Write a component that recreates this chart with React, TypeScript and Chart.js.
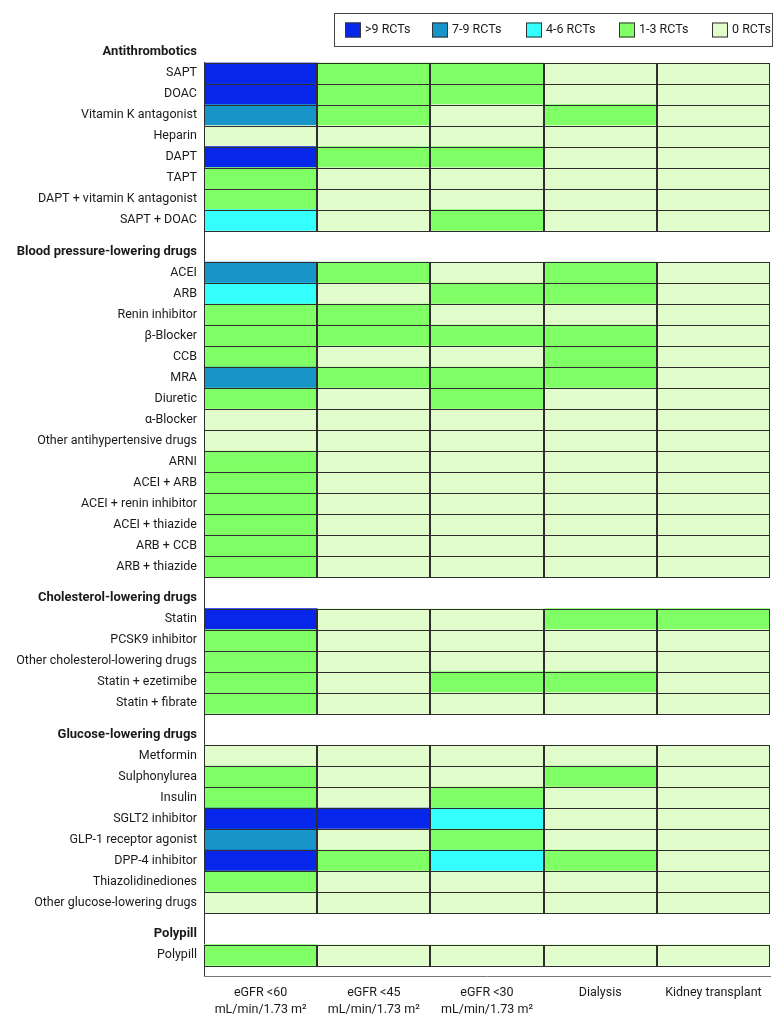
import { useEffect, useRef } from "react";
import { Chart, registerables } from "chart.js";

Chart.register(...registerables);

const FONT = "Roboto, 'Liberation Sans', 'DejaVu Sans', sans-serif";
const TEXT_COLOR = "#1a1a1a";

// Columns (kidney function categories)
const columnLabels: string[][] = [
  ["eGFR <60", "mL/min/1.73 m²"],
  ["eGFR <45", "mL/min/1.73 m²"],
  ["eGFR <30", "mL/min/1.73 m²"],
  ["Dialysis"],
  ["Kidney transplant"],
];

// Evidence levels: 0 = 0 RCTs, 1 = 1-3, 2 = 4-6, 3 = 7-9, 4 = >9
const levelColors = ["#E2FDCC", "#80FF66", "#33FFFF", "#1795C8", "#0626E9"];
const legendCodes = [4, 3, 2, 1, 0];
const legendLabels = [">9 RCTs", "7-9 RCTs", "4-6 RCTs", "1-3 RCTs", "0 RCTs"];

const groupTitles = [
  "Antithrombotics",
  "Blood pressure-lowering drugs",
  "Cholesterol-lowering drugs",
  "Glucose-lowering drugs",
  "Polypill",
];

const antithromboticDrugs = [
  "SAPT",
  "DOAC",
  "Vitamin K antagonist",
  "Heparin",
  "DAPT",
  "TAPT",
  "DAPT + vitamin K antagonist",
  "SAPT + DOAC",
];
const antithromboticLevels = [
  [4, 1, 1, 0, 0],
  [4, 1, 1, 0, 0],
  [3, 1, 0, 1, 0],
  [0, 0, 0, 0, 0],
  [4, 1, 1, 0, 0],
  [1, 0, 0, 0, 0],
  [1, 0, 0, 0, 0],
  [2, 0, 1, 0, 0],
];

const bpDrugs = [
  "ACEI",
  "ARB",
  "Renin inhibitor",
  "β-Blocker",
  "CCB",
  "MRA",
  "Diuretic",
  "α-Blocker",
  "Other antihypertensive drugs",
  "ARNI",
  "ACEI + ARB",
  "ACEI + renin inhibitor",
  "ACEI + thiazide",
  "ARB + CCB",
  "ARB + thiazide",
];
const bpLevels = [
  [3, 1, 0, 1, 0],
  [2, 0, 1, 1, 0],
  [1, 1, 0, 0, 0],
  [1, 1, 1, 1, 0],
  [1, 0, 0, 1, 0],
  [3, 1, 1, 1, 0],
  [1, 0, 1, 0, 0],
  [0, 0, 0, 0, 0],
  [0, 0, 0, 0, 0],
  [1, 0, 0, 0, 0],
  [1, 0, 0, 0, 0],
  [1, 0, 0, 0, 0],
  [1, 0, 0, 0, 0],
  [1, 0, 0, 0, 0],
  [1, 0, 0, 0, 0],
];

const cholesterolDrugs = [
  "Statin",
  "PCSK9 inhibitor",
  "Other cholesterol-lowering drugs",
  "Statin + ezetimibe",
  "Statin + fibrate",
];
const cholesterolLevels = [
  [4, 0, 0, 1, 1],
  [1, 0, 0, 0, 0],
  [1, 0, 0, 0, 0],
  [1, 0, 1, 1, 0],
  [1, 0, 0, 0, 0],
];

const glucoseDrugs = [
  "Metformin",
  "Sulphonylurea",
  "Insulin",
  "SGLT2 inhibitor",
  "GLP-1 receptor agonist",
  "DPP-4 inhibitor",
  "Thiazolidinediones",
  "Other glucose-lowering drugs",
];
const glucoseLevels = [
  [0, 0, 0, 0, 0],
  [1, 0, 0, 1, 0],
  [1, 0, 1, 0, 0],
  [4, 4, 2, 0, 0],
  [3, 0, 1, 0, 0],
  [4, 1, 2, 1, 0],
  [1, 0, 0, 0, 0],
  [0, 0, 0, 0, 0],
];

const polypillDrugs = ["Polypill"];
const polypillLevels = [[1, 0, 0, 0, 0]];

const groupDrugs = [antithromboticDrugs, bpDrugs, cholesterolDrugs, glucoseDrugs, polypillDrugs];
const groupLevels = [antithromboticLevels, bpLevels, cholesterolLevels, glucoseLevels, polypillLevels];

type Row = { label: string; pos: number; levels: number[] };
const headings: { label: string; pos: number }[] = [];
const rows: Row[] = [];
{
  let pos = 0;
  groupTitles.forEach((title, gi) => {
    if (gi > 0) pos += 1.5;
    headings.push({ label: title, pos });
    groupDrugs[gi].forEach((d, i) => {
      pos += 1;
      rows.push({ label: d, pos, levels: groupLevels[gi][i] });
    });
  });
}
const yMin = 0.5;
const yMax = rows[rows.length - 1].pos + 1;

const cellBorderPlugin = {
  id: "cellBorders",
  afterDatasetsDraw(chart: any) {
    const ctx = chart.ctx;
    ctx.save();
    ctx.strokeStyle = "#2e2e2e";
    ctx.lineWidth = 1;
    chart.data.datasets.forEach((_: any, di: number) => {
      const meta = chart.getDatasetMeta(di);
      meta.data.forEach((el: any) => {
        const p = el.getProps(["x", "y", "base", "height"], true);
        const l = Math.round(Math.min(p.x, p.base)) + 0.5;
        const r = Math.round(Math.max(p.x, p.base)) - 0.5;
        const t = Math.round(p.y - p.height / 2) + 0.5;
        const b = Math.round(p.y + p.height / 2) + 0.5;
        ctx.strokeRect(l, t, r - l, b - t);
      });
    });
    ctx.restore();
  },
};

const headingPlugin = {
  id: "groupHeadings",
  afterDraw(chart: any) {
    const ctx = chart.ctx;
    const y = chart.scales.y;
    ctx.save();
    ctx.font = `bold 13px ${FONT}`;
    ctx.fillStyle = TEXT_COLOR;
    ctx.textAlign = "right";
    ctx.textBaseline = "middle";
    headings.forEach((h) => {
      ctx.fillText(h.label, chart.chartArea.left - 7, y.getPixelForValue(h.pos));
    });
    ctx.restore();
  },
};

const legendSwatchOffsets = [11, 98, 192, 285, 378];

const legendPlugin = {
  id: "rctLegend",
  afterDraw(chart: any) {
    const ctx = chart.ctx;
    const area = chart.chartArea;
    const boxRight = area.right + 2;
    const boxLeft = 334;
    const boxTop = 13.5;
    const boxBottom = 46.5;
    ctx.save();
    ctx.strokeStyle = "#444";
    ctx.lineWidth = 1;
    ctx.strokeRect(boxLeft + 0.5, boxTop, boxRight - boxLeft, boxBottom - boxTop);
    ctx.font = `12.5px ${FONT}`;
    ctx.textBaseline = "middle";
    ctx.textAlign = "left";
    const midY = (boxTop + boxBottom) / 2;
    legendCodes.forEach((code, i) => {
      const x = boxLeft + legendSwatchOffsets[i];
      ctx.fillStyle = levelColors[code];
      ctx.fillRect(x, midY - 7.5, 16, 15);
      ctx.strokeStyle = "#333";
      ctx.strokeRect(x + 0.5, midY - 7, 15, 14);
      ctx.fillStyle = TEXT_COLOR;
      ctx.fillText(legendLabels[i], x + 20, midY);
    });
    ctx.restore();
  },
};

export default function App() {
  const canvasRef = useRef<HTMLCanvasElement | null>(null);

  useEffect(() => {
    if (!canvasRef.current) return;
    const datasets = columnLabels.map((col, c) => ({
      label: col.join(" "),
      data: rows.map((r) => ({ y: r.pos, x: [c, c + 1] })),
      backgroundColor: rows.map((r) => levelColors[r.levels[c]]),
      borderWidth: 0,
      barPercentage: 1,
      categoryPercentage: 1,
      grouped: false,
    }));

    const chart = new Chart(canvasRef.current, {
      type: "bar",
      data: { datasets: datasets as any },
      options: {
        indexAxis: "y",
        responsive: false,
        animation: false,
        layout: { padding: { top: 62.5, left: 0, right: 10, bottom: 0 } },
        plugins: {
          legend: { display: false },
          tooltip: { enabled: false },
          title: { display: false },
        },
        scales: {
          y: {
            type: "linear",
            reverse: true,
            offset: false,
            min: yMin,
            max: yMax,
            afterBuildTicks: (s: any) => {
              s.ticks = rows.map((r) => ({ value: r.pos }));
            },
            afterFit: (s: any) => {
              s.width = 204;
            },
            ticks: {
              autoSkip: false,
              padding: 7,
              color: TEXT_COLOR,
              font: { family: FONT, size: 12.5 },
              callback: (_v: any, i: number) => rows[i].label,
            },
            grid: { display: false, drawTicks: false, offset: false },
            border: { display: true, color: "#333", width: 1 },
          },
          x: {
            type: "linear",
            position: "bottom",
            offset: false,
            min: 0,
            max: columnLabels.length,
            afterBuildTicks: (s: any) => {
              s.ticks = columnLabels.map((_, i) => ({ value: i + 0.5 }));
            },
            afterFit: (s: any) => {
              s.height = 51;
            },
            ticks: {
              autoSkip: false,
              maxRotation: 0,
              minRotation: 0,
              padding: 9,
              color: TEXT_COLOR,
              font: { family: FONT, size: 12.5, lineHeight: 1.3 },
              callback: (_v: any, i: number) => columnLabels[i],
            },
            grid: { display: false, drawTicks: false },
            border: { display: true, color: "#777", width: 1 },
          },
        },
      },
      plugins: [cellBorderPlugin, headingPlugin, legendPlugin],
    });
    return () => chart.destroy();
  }, []);

  return (
    <div style={{ position: "absolute", left: 0, top: 0, width: 780, height: 1027, background: "#fff" }}>
      <canvas ref={canvasRef} width={780} height={1027} style={{ display: "block", width: 780, height: 1027 }} />
    </div>
  );
}
